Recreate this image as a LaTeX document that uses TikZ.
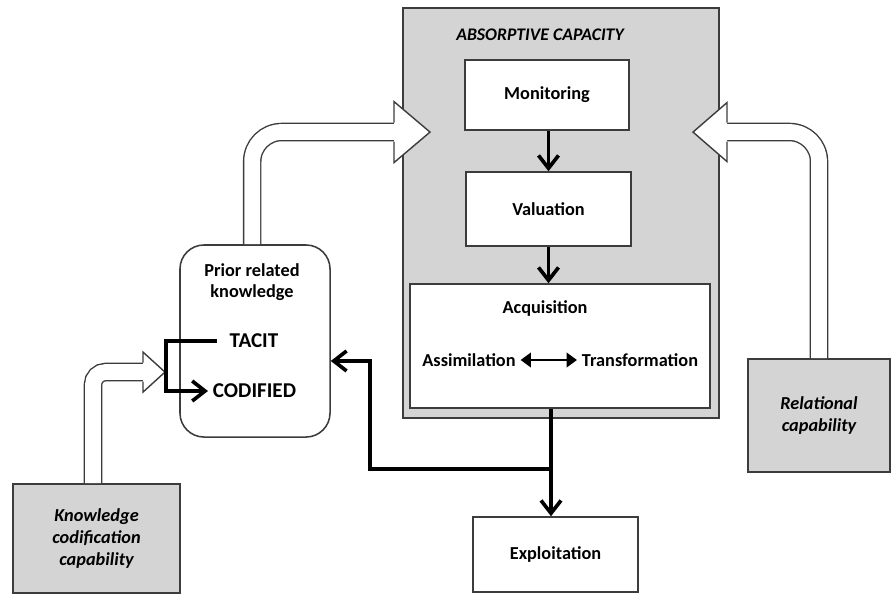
\documentclass[tikz,border=0pt]{standalone}
\usepackage{fontspec}
\setmainfont{Carlito}
\usetikzlibrary{arrows.meta,positioning}
\definecolor{capgray}{RGB}{212,212,212}
\definecolor{edgegray}{RGB}{60,60,60}

\begin{document}
\begin{tikzpicture}[
    x=0.025cm, y=-0.025cm,
    >={Straight Barb[length=3.2mm,width=5mm]},
    every node/.style={font=\fontsize{13}{15}\selectfont\bfseries},
    box/.style={draw=edgegray, line width=1.1pt, fill=white, align=center, inner sep=0pt},
    graybox/.style={box, fill=capgray, font=\fontsize{13}{15.5}\selectfont\bfseries\itshape},
    big/.style={font=\fontsize{15}{17}\selectfont\bfseries},
    thk/.style={line width=2.6pt},
    shaft/.style={draw=edgegray, line width=1pt, double=white, double distance=11.2pt},
    head/.style={draw=edgegray, line width=1pt, fill=white, line join=miter}
  ]
  \useasboundingbox (0,0) rectangle (891,594);

  % absorptive capacity block
  \node[box, fill=capgray, minimum width=7.9cm, minimum height=10.25cm] (absorb) at (561,213) {};
  \node[font=\fontsize{12.6}{15}\selectfont\bfseries\itshape] (abstitle) at (540,35) {ABSORPTIVE CAPACITY};
  \node[box, minimum width=4.1cm, minimum height=1.75cm] (monitor) at (547,95) {Monitoring};
  \node[box, minimum width=4.125cm, minimum height=1.85cm] (valuation) at (548.5,209) {Valuation};
  \node[box, minimum width=7.5cm, minimum height=3.1cm] (acq) at (560,346) {};
  \node (acqtitle) at (545,308) {Acquisition};
  \node (assim) at (469,360) {Assimilation};
  \node (transf) at (640,360) {Transformation};

  % prior knowledge
  \node[box, rounded corners=0.6cm, minimum width=3.75cm, minimum height=4.8cm] (prior) at (255,341) {};
  \node[align=center] (priortitle) at (252,282) {Prior related\\knowledge};
  \node[big, inner xsep=9pt] (tacit) at (254,341) {TACIT};
  \node[big] (codified) at (254.5,391) {CODIFIED};

  % capabilities and exploitation
  \node[graybox, minimum width=4.175cm, minimum height=2.725cm] (knowl) at (96.5,538.5) {Knowledge\\codification\\capability};
  \node[graybox, minimum width=3.55cm, minimum height=2.825cm] (rel) at (819,415.5) {Relational\\capability};
  \node[box, minimum width=4.125cm, minimum height=1.875cm] (exploit) at (555.5,554.5) {Exploitation};

  % hollow arrows
  \coordinate (kbase) at (143,372);
  \coordinate (pbase) at (394,132);
  \coordinate (rbase) at (727,132);
  \draw[shaft, rounded corners=9pt] ([xshift=-2.5pt]knowl.north) |- (kbase);
  \draw[head] ([yshift=6.7pt]kbase) -- ++(0,-10.5) -- ++(22,20) -- ++(-22,20) -- ++(0,-10.5);
  \draw[shaft, rounded corners=21pt] ([xshift=-2pt]prior.north) |- (pbase);
  \draw[head] ([yshift=6.7pt]pbase) -- ++(0,-21) -- ++(36,30.5) -- ++(-36,30.5) -- ++(0,-21);
  \draw[shaft, rounded corners=21pt] (rel.north) |- (rbase);
  \draw[head] ([yshift=6.7pt]rbase) -- ++(0,-20) -- ++(-34,29.5) -- ++(34,29.5) -- ++(0,-20);

  % flows
  \draw[thk, ->] (valuation.north |- monitor.south) -- (valuation.north);
  \draw[thk, ->] (valuation.south) -- (valuation.south |- acq.north);
  \draw[line width=2pt, {Triangle[length=2.6mm,width=3.6mm]}-{Triangle[length=2.6mm,width=3.6mm]}] (assim) -- (transf);
  \coordinate (split) at (551,469);
  \coordinate (bend) at (370,469);
  \draw[thk] (acq.south -| split) -- (split);
  \draw[thk, ->] (split) -- (split |- exploit.north);
  \draw[thk, ->] (split) -- (bend) |- ([yshift=-14.2pt]prior.east);
  \coordinate (brk) at (166,341);
  \draw[thk, ->] (tacit.west) -- (brk) |- (codified.west);
\end{tikzpicture}
\end{document}
